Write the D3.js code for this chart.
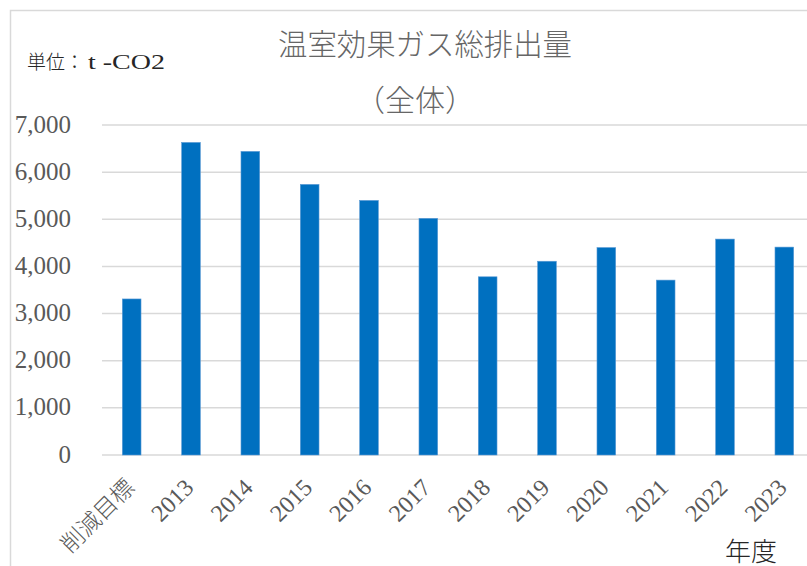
<!DOCTYPE html>
<html>
<head>
<meta charset="utf-8">
<script src="https://cdn.jsdelivr.net/npm/d3@7"></script>
<style>
  body { margin: 0; background: #fff; }
  svg { display: block; }
</style>
</head>
<body>
<div id="chart"></div>
<script>
const WIDTH = 807;
const HEIGHT = 566;

// data
const categories = ['削減目標', '2013', '2014', '2015', '2016', '2017', '2018', '2019', '2020', '2021', '2022', '2023'];
const emissions = [3310, 6630, 6440, 5740, 5400, 5020, 3780, 4110, 4400, 3710, 4580, 4410];
const yTicks = [0, 1000, 2000, 3000, 4000, 5000, 6000, 7000];

const SERIF = '"Liberation Serif", "Times New Roman", "Noto Sans CJK JP", serif';
const CJK = '"Noto Sans CJK JP", "Noto Sans CJK SC", sans-serif';
const TEXT_GRAY = '#595959';

const svg = d3.select('#chart')
  .append('svg')
  .attr('width', WIDTH)
  .attr('height', HEIGHT);

// chart area border (runs past the right and bottom edges)
svg.append('rect')
  .attr('x', 10.5)
  .attr('y', 10.5)
  .attr('width', 820)
  .attr('height', 580)
  .attr('fill', 'white')
  .attr('stroke', '#d9d9d9')
  .attr('stroke-width', 1.5);

const x = d3.scaleBand()
  .domain(categories)
  .range([102, 814])
  .paddingInner(0.685)
  .paddingOuter(0.685 / 2);

const y = d3.scaleLinear()
  .domain([0, 7000])
  .range([455, 125]);

// gridlines
svg.append('g')
  .selectAll('line')
  .data(yTicks)
  .enter()
  .append('line')
  .attr('x1', 102)
  .attr('x2', 814)
  .attr('y1', d => y(d))
  .attr('y2', d => y(d))
  .attr('stroke', '#d9d9d9')
  .attr('stroke-width', 1.5);

// y labels
svg.append('g')
  .selectAll('text')
  .data(yTicks)
  .enter()
  .append('text')
  .attr('x', 71)
  .attr('y', d => y(d) - 1)
  .attr('dy', '0.34em')
  .attr('text-anchor', 'end')
  .attr('font-family', SERIF)
  .attr('font-size', '25px')
  .attr('fill', TEXT_GRAY)
  .text(d3.format(','));

// bars
svg.append('g')
  .selectAll('rect')
  .data(emissions)
  .enter()
  .append('rect')
  .attr('x', (d, i) => x(categories[i]))
  .attr('y', d => y(d))
  .attr('width', x.bandwidth())
  .attr('height', d => y(0) - y(d))
  .attr('fill', '#0070c0')
  .attr('stroke', '#5b9bd5')
  .attr('stroke-width', 0.6);

// x labels, rotated
svg.append('g')
  .selectAll('text')
  .data(categories)
  .enter()
  .append('text')
  .attr('transform', d => 'translate(' + (x(d) + x.bandwidth() / 2 + 4) + ',489) rotate(-45)')
  .attr('text-anchor', 'end')
  .attr('font-family', d => isNaN(+d) ? CJK : SERIF)
  .attr('font-weight', d => isNaN(+d) ? 300 : 400)
  .attr('font-size', d => isNaN(+d) ? '23px' : '24px')
  .attr('fill', TEXT_GRAY)
  .text(d => d);

// titles
svg.append('text')
  .attr('x', 278)
  .attr('y', 55)
  .attr('font-family', CJK)
  .attr('font-weight', 300)
  .attr('font-size', '30px')
  .attr('fill', '#666666')
  .attr('textLength', 294)
  .attr('lengthAdjust', 'spacingAndGlyphs')
  .text('温室効果ガス総排出量');

svg.append('text')
  .attr('x', 415)
  .attr('y', 111)
  .attr('text-anchor', 'middle')
  .attr('font-family', CJK)
  .attr('font-weight', 300)
  .attr('font-size', '30px')
  .attr('fill', '#666666')
  .text('（全体）');

// unit label
const unit = svg.append('text')
  .attr('x', 27)
  .attr('y', 69)
  .attr('fill', '#262626');
unit.append('tspan')
  .attr('font-family', CJK)
  .attr('font-weight', 300)
  .attr('font-size', '19px')
  .text('単位：');
unit.append('tspan')
  .attr('x', 88)
  .attr('font-family', SERIF)
  .attr('font-size', '21px')
  .attr('textLength', 77)
  .attr('lengthAdjust', 'spacingAndGlyphs')
  .text('t -CO2');

// axis title
svg.append('text')
  .attr('x', 725)
  .attr('y', 561)
  .attr('font-family', CJK)
  .attr('font-weight', 300)
  .attr('font-size', '26px')
  .attr('fill', '#262626')
  .text('年度');
</script>
</body>
</html>
